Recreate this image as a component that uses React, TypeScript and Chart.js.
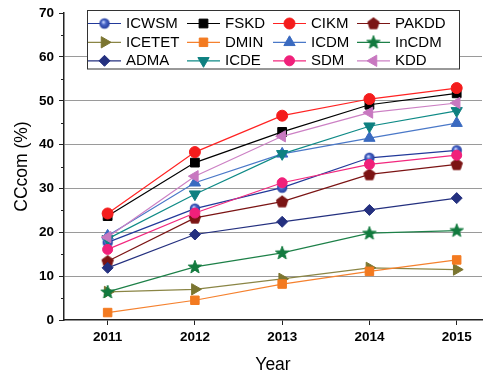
import React, { useEffect, useRef } from 'react';
import { Chart, registerables } from 'chart.js';
import { drawPoint } from 'chart.js/helpers';

Chart.register(...registerables);

const years = [2011, 2012, 2013, 2014, 2015];
const yMajor = [0, 10, 20, 30, 40, 50, 60, 70];

const ICWSM = [17.7, 25.4, 30.2, 37.0, 38.7];
const FSKD = [23.7, 35.9, 42.9, 49.1, 51.7];
const CIKM = [24.3, 38.3, 46.6, 50.4, 52.9];
const PAKDD = [13.4, 23.3, 27.0, 33.2, 35.5];
const ICETET = [6.4, 7.0, 9.4, 11.9, 11.5];
const DMIN = [1.7, 4.5, 8.2, 11.1, 13.7];
const ICDM = [19.2, 31.3, 37.9, 41.5, 44.9];
const InCDM = [6.4, 12.1, 15.3, 19.8, 20.4];
const ADMA = [11.9, 19.5, 22.4, 25.1, 27.8];
const ICDE = [18.5, 28.7, 37.9, 44.2, 47.7];
const SDM = [16.1, 24.4, 31.3, 35.5, 37.6];
const KDD = [18.9, 32.8, 41.9, 47.3, 49.5];

const FONT = "'Liberation Sans', Arial, Helvetica, sans-serif";

function makeShape(kind: 'pentagon' | 'star' | 'ball', color: string): HTMLCanvasElement {
  const c = document.createElement('canvas');
  c.width = 16;
  c.height = 16;
  const g = c.getContext('2d')!;
  g.fillStyle = color;
  g.strokeStyle = color;
  g.lineWidth = 1;
  g.beginPath();
  const cx = 8, cy = 8.3;
  if (kind === 'ball') {
    const grad = g.createRadialGradient(6.8, 6.5, 0.5, 8, 8, 5.5);
    grad.addColorStop(0, '#c8d4ff');
    grad.addColorStop(0.35, '#4a68c8');
    grad.addColorStop(1, color);
    g.fillStyle = grad;
    g.arc(8, 8, 5.2, 0, Math.PI * 2);
    g.fill();
    return c;
  }
  if (kind === 'pentagon') {
    for (let i = 0; i < 5; i++) {
      const a = -Math.PI / 2 + (i * 2 * Math.PI) / 5;
      const x = cx + Math.cos(a) * 6;
      const y = cy + Math.sin(a) * 6;
      if (i === 0) g.moveTo(x, y); else g.lineTo(x, y);
    }
  } else {
    for (let i = 0; i < 10; i++) {
      const a = -Math.PI / 2 + (i * Math.PI) / 5;
      const r = i % 2 === 0 ? 7 : 2.9;
      const x = cx + Math.cos(a) * r;
      const y = cy + Math.sin(a) * r;
      if (i === 0) g.moveTo(x, y); else g.lineTo(x, y);
    }
  }
  g.closePath();
  g.fill();
  g.stroke();
  return c;
}

const extrasPlugin = {
  id: 'extras',
  afterDatasetsDraw(chart: any) {
    const ctx = chart.ctx as CanvasRenderingContext2D;
    const ys = chart.scales.y;
    ctx.save();
    // minor ticks on y axis
    ctx.strokeStyle = '#222';
    ctx.lineWidth = 1;
    for (let i = 0; i < yMajor.length - 1; i++) {
      const v = (yMajor[i] + yMajor[i + 1]) / 2;
      const py = Math.round(ys.getPixelForValue(v)) + 0.5;
      ctx.beginPath();
      ctx.moveTo(ys.right - 3, py);
      ctx.lineTo(ys.right, py);
      ctx.stroke();
    }
    // boxed legend
    const bx = 87.5, by = 10.5, bw = 372, bh = 58.5;
    ctx.fillStyle = '#fff';
    ctx.fillRect(bx, by, bw, bh);
    ctx.strokeStyle = '#333';
    ctx.lineWidth = 1;
    ctx.strokeRect(bx, by, bw, bh);
    const colX = [88, 187, 273, 357];
    const rowY = [23.5, 42.3, 60.8];
    const lineLen = 33;
    ctx.font = `15px ${FONT}`;
    ctx.textBaseline = 'middle';
    ctx.textAlign = 'left';
    chart.data.datasets.forEach((ds: any, i: number) => {
      const cx = colX[i % 4];
      const cy = rowY[Math.floor(i / 4)];
      ctx.strokeStyle = ds.borderColor;
      ctx.lineWidth = ds.borderWidth;
      ctx.beginPath();
      ctx.moveTo(cx, cy);
      ctx.lineTo(cx + lineLen, cy);
      ctx.stroke();
      ctx.fillStyle = ds.pointBackgroundColor;
      ctx.strokeStyle = ds.pointBorderColor;
      ctx.lineWidth = 1;
      drawPoint(ctx, {
        pointStyle: ds.pointStyle,
        rotation: ds.pointRotation || 0,
        radius: ds.pointRadius,
        borderWidth: 1,
      } as any, cx + lineLen / 2, cy);
      ctx.fillStyle = '#000';
      ctx.fillText(ds.label, cx + lineLen + 5, cy + 0.5);
    });
    ctx.restore();
  },
};

export default function App() {
  const ref = useRef<HTMLCanvasElement | null>(null);
  useEffect(() => {
    if (!ref.current) return;
    const pentagon = makeShape('pentagon', '#7b1414');
    const star = makeShape('star', '#127a3e');
    const ball = makeShape('ball', '#22399a');
    const mk = (label: string, data: number[], line: string, fill: string, style: any, radius: number, rot = 0) => ({
      label,
      data: data.map((v, i) => ({ x: years[i], y: v })),
      borderColor: line,
      borderWidth: 1.2,
      pointBackgroundColor: fill,
      pointBorderColor: fill,
      pointBorderWidth: 1,
      pointStyle: style,
      pointRadius: radius,
      pointRotation: rot,
      pointHoverRadius: radius,
    });
    const datasets: any[] = [
      mk('ICWSM', ICWSM, '#22399a', '#2d4cb0', ball, 5),
      mk('FSKD', FSKD, '#000000', '#000000', 'rect', 6.2),
      mk('CIKM', CIKM, '#ff2222', '#f41c1c', 'circle', 5.5),
      mk('PAKDD', PAKDD, '#7b1414', '#7b1414', pentagon, 6),
      mk('ICETET', ICETET, '#8a8545', '#7b7530', 'triangle', 6.5, 90),
      mk('DMIN', DMIN, '#f5812e', '#f37a20', 'rect', 6),
      mk('ICDM', ICDM, '#4a78c8', '#3a6ac0', 'triangle', 6.5),
      mk('InCDM', InCDM, '#1d8048', '#127a3e', star, 7),
      mk('ADMA', ADMA, '#24307f', '#24307f', 'rectRot', 5.5),
      mk('ICDE', ICDE, '#0e8a86', '#0e8080', 'triangle', 6.5, 180),
      mk('SDM', SDM, '#f2287e', '#f0207a', 'circle', 5),
      mk('KDD', KDD, '#cc80c4', '#c878c0', 'triangle', 6.5, 270),
    ];
    const n = datasets.length;
    datasets.forEach((d, i) => { d.order = n - i; });

    const chart = new Chart(ref.current, {
      type: 'line',
      data: { datasets },
      plugins: [extrasPlugin],
      options: {
        responsive: false,
        animation: false,
        events: [],
        layout: { autoPadding: false, padding: { left: 0, top: 10.5, right: 1, bottom: 0 } },
        plugins: { legend: { display: false }, tooltip: { enabled: false } },
        scales: {
          x: {
            type: 'linear',
            min: 2010.5,
            max: 2015.29,
            afterBuildTicks: (s: any) => { s.ticks = years.map((v) => ({ value: v })); },
            afterFit: (s: any) => { s.height = 57; s.paddingLeft = 0; s.paddingRight = 0; },
            ticks: {
              color: '#000',
              font: { family: FONT, size: 13.5, weight: 'bold' },
              padding: 4.5,
              maxRotation: 0,
              autoSkip: false,
              callback: (v: any) => String(v),
            },
            grid: {
              drawOnChartArea: false,
              drawTicks: true,
              tickLength: 5,
              tickColor: '#222',
              tickWidth: 1,
            },
            border: { display: true, color: '#222', width: 1.5 },
            title: {
              display: true,
              text: 'Year',
              color: '#000',
              font: { family: FONT, size: 17.5, weight: 'normal' },
              padding: { top: 0, bottom: 1.5 },
            },
          },
          y: {
            type: 'linear',
            min: 0,
            max: 70,
            afterBuildTicks: (s: any) => { s.ticks = yMajor.map((v) => ({ value: v })); },
            afterFit: (s: any) => { s.width = 64; },
            ticks: {
              color: '#000',
              font: { family: FONT, size: 13.5, weight: 'bold' },
              padding: 5,
              autoSkip: false,
              callback: (v: any) => String(v),
            },
            grid: {
              drawOnChartArea: true,
              drawTicks: true,
              tickLength: 5,
              color: (c: any) => (c.tick && c.tick.value > 0 && c.tick.value < 70 ? '#9a9a9a' : 'rgba(0,0,0,0)'),
              borderDash: [1.5, 2],
              tickColor: '#222',
              tickBorderDash: [],
              tickWidth: 1,
              lineWidth: 1,
            },
            border: { display: true, color: '#222', width: 1.5 },
            title: {
              display: true,
              text: 'CCcom (%)',
              color: '#000',
              font: { family: FONT, size: 17.5, weight: 'normal' },
              padding: { top: 11.5, bottom: 0 },
            },
          },
        },
      } as any,
    });
    return () => chart.destroy();
  }, []);

  return (
    <div style={{ position: 'absolute', left: 0, top: 0, width: 483, height: 377, background: '#fff' }}>
      <canvas ref={ref} width={483} height={377} />
    </div>
  );
}
